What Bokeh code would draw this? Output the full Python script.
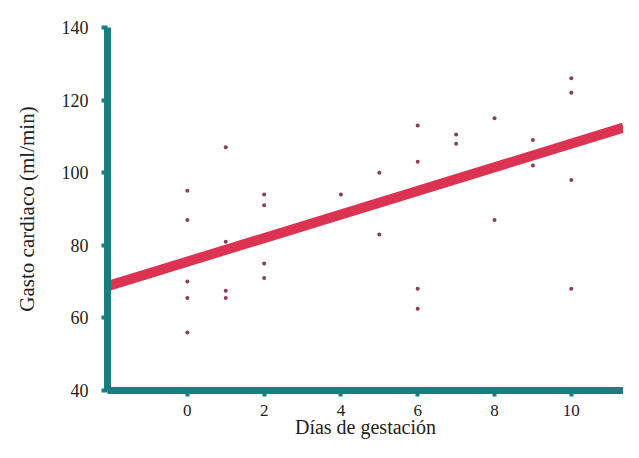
from bokeh.plotting import figure
from bokeh.models import ColumnDataSource, FixedTicker, Range1d
from bokeh.embed import file_html
from bokeh.resources import INLINE

# Data
dias = [0, 0, 0, 0, 0,
        1, 1, 1, 1,
        2, 2, 2, 2,
        4,
        5, 5,
        6, 6, 6, 6,
        7, 7,
        8, 8,
        9, 9,
        10, 10, 10, 10]
gasto = [95, 87, 70, 65.5, 56,
         107, 81, 67.5, 65.5,
         94, 91, 75, 71,
         94,
         100, 83,
         113, 103, 68, 62.5,
         110.5, 108,
         115, 87,
         109, 102,
         126, 122, 98, 68]

# Fitted regression line (intercept, slope)
intercept = 75.5
slope = 3.25
x_ticks = [0, 2, 4, 6, 8, 10]
y_ticks = [40, 60, 80, 100, 120, 140]

x0, x1 = -2.08, 11.36
line_x = [x0, x1]
line_y = [intercept + slope * v for v in line_x]

TEAL = "#17807f"
RED = "#dd3352"
DOT = "#8a3e52"
FONT = "Liberation Serif"

p = figure(width=623, height=442, output_backend="svg", toolbar_location=None,
           x_range=Range1d(x0, x1), y_range=Range1d(40, 140),
           min_border_left=107, min_border_top=27, min_border_bottom=52,
           min_border_right=0)
p.outline_line_color = None
p.xgrid.grid_line_color = None
p.ygrid.grid_line_color = None
p.background_fill_color = "white"

p.line(line_x, line_y, line_color=RED, line_width=10)
src = ColumnDataSource(dict(x=dias, y=gasto))
p.scatter("x", "y", source=src, size=4, color=DOT, line_color=None)

for ax in (p.xaxis, p.yaxis):
    ax.axis_line_color = TEAL
    ax.axis_line_width = 7
    ax.major_tick_line_color = TEAL
    ax.major_tick_line_width = 4
    ax.major_tick_in = 0
    ax.major_tick_out = 6
    ax.minor_tick_line_color = None
    ax.major_label_text_font = FONT
    ax.major_label_text_font_size = "18px"
    ax.major_label_text_color = "#222222"
    ax.axis_label_text_font = FONT
    ax.axis_label_text_font_size = "21px"
    ax.axis_label_text_font_style = "normal"
    ax.axis_label_text_color = "#222222"

p.xaxis.major_label_text_font_size = "17px"
p.xaxis.axis_label_text_font_size = "20px"
p.xaxis.ticker = FixedTicker(ticks=x_ticks)
p.yaxis.ticker = FixedTicker(ticks=y_ticks)
p.xaxis.axis_label = "Días de gestación"
p.yaxis.axis_label = "Gasto cardiaco (ml/min)"
p.xaxis.major_label_standoff = 8
p.yaxis.major_label_standoff = 13
p.xaxis.axis_label_standoff = -3
p.yaxis.axis_label_standoff = 20

open("out.html", "w").write(file_html(p, INLINE))
